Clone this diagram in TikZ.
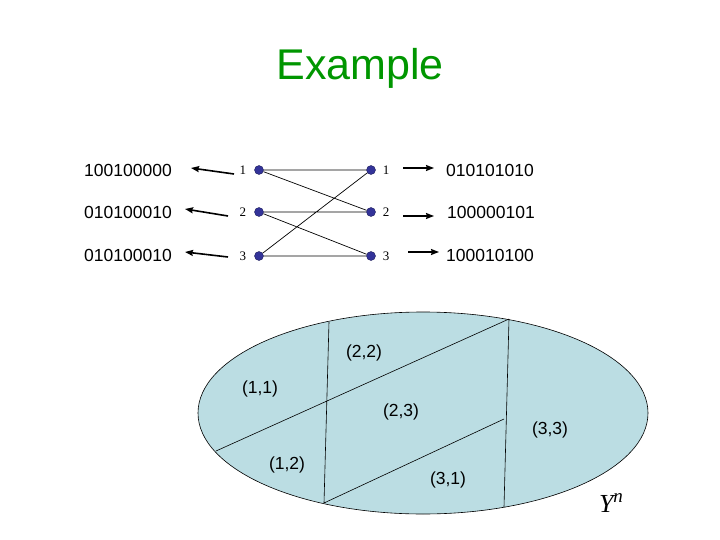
\documentclass[tikz,border=0pt]{standalone}
\usepackage{fontspec}
\setmainfont{Liberation Sans}
\newfontfamily\numfont{Liberation Serif}
\usetikzlibrary{positioning,arrows.meta}
\definecolor{titlegreen}{RGB}{0,150,0}
\definecolor{dotblue}{RGB}{51,51,153}
\definecolor{setblue}{RGB}{187,221,227}
\tikzset{
	bits/.style={anchor=west, inner sep=0pt, font=\fontsize{17.5}{20}\selectfont},
	dot/.style={circle, fill=dotblue, draw=dotblue!60!black, inner sep=0pt, minimum size=9pt},
	idx/.style={inner sep=0pt, font=\numfont\fontsize{13}{15}\selectfont},
	cell/.style={inner sep=0pt, font=\fontsize{17.5}{20}\selectfont},
	sendarrow/.style={-{Stealth[length=8pt, width=6pt, inset=1pt]}, line width=1.6pt}
}

\begin{document}
\begin{tikzpicture}[x=1pt,y=-1pt]
	\useasboundingbox (0,0) rectangle (720,540);
	\node[text=titlegreen, font=\fontsize{43}{50}\selectfont] (title) at (360,68) {Example};
	% the two columns of the graph
	\foreach \i/\y in {1/170,2/212,3/256} {
		\node[dot] (l\i) at (259,\y) {};
		\node[dot] (r\i) at (371,\y) {};
		\node[idx, left=8pt of l\i] (ll\i) {\i};
		\node[idx, right=7pt of r\i] (rl\i) {\i};
	}
	\draw[line width=0.7pt] (l1) -- (r1) (l1) -- (r2) (l2) -- (r2) (l2) -- (r3) (l3) -- (r3) (l3) -- (r1);
	% code words
	\node[bits] (bl1) at (84,170) {100100000};
	\node[bits] (bl2) at (84,212) {010100010};
	\node[bits] (bl3) at (84,255) {010100010};
	\node[bits] (br1) at (446,170) {010101010};
	\node[bits] (br2) at (447,212) {100000101};
	\node[bits] (br3) at (446,255) {100010100};
	\coordinate (lt1) at (234,174); \coordinate (lh1) at (191,168);
	\coordinate (lt2) at (228,216); \coordinate (lh2) at (185,209);
	\coordinate (lt3) at (228,257); \coordinate (lh3) at (185,252);
	\coordinate (rt1) at (403,168); \coordinate (rh1) at (434,168);
	\coordinate (rt2) at (403,216); \coordinate (rh2) at (434,216);
	\coordinate (rt3) at (408,252); \coordinate (rh3) at (439,252);
	\foreach \i in {1,2,3} {
		\draw[sendarrow] (lt\i) -- (lh\i);
		\draw[sendarrow] (rt\i) -- (rh\i);
	}
	% the set Y^n and its cells
	\filldraw[fill=setblue, draw=black, line width=0.6pt] (423,413) ellipse [x radius=225pt, y radius=101pt];
	\coordinate (v1t) at (329,322); \coordinate (v1b) at (324,503);
	\coordinate (v2t) at (509,319); \coordinate (v2b) at (504,507);
	\coordinate (d1s) at (216,451); \coordinate (d2e) at (504,419);
	\draw[line width=0.6pt] (v1t) -- (v1b) (v2t) -- (v2b) (d1s) -- (v2t) (v1b) -- (d2e);
	\node[cell] (c22) at (364,353) {(2,2)};
	\node[cell] (c11) at (260,389) {(1,1)};
	\node[cell] (c23) at (401,412) {(2,3)};
	\node[cell] (c33) at (550,430) {(3,3)};
	\node[cell] (c12) at (287,465) {(1,2)};
	\node[cell] (c31) at (448,480) {(3,1)};
	\node[inner sep=0pt, font=\numfont\itshape\fontsize{26}{30}\selectfont] (yn) at (611,503) {Y\raisebox{0.4em}{\fontsize{19}{22}\selectfont n}};
\end{tikzpicture}
\end{document}
